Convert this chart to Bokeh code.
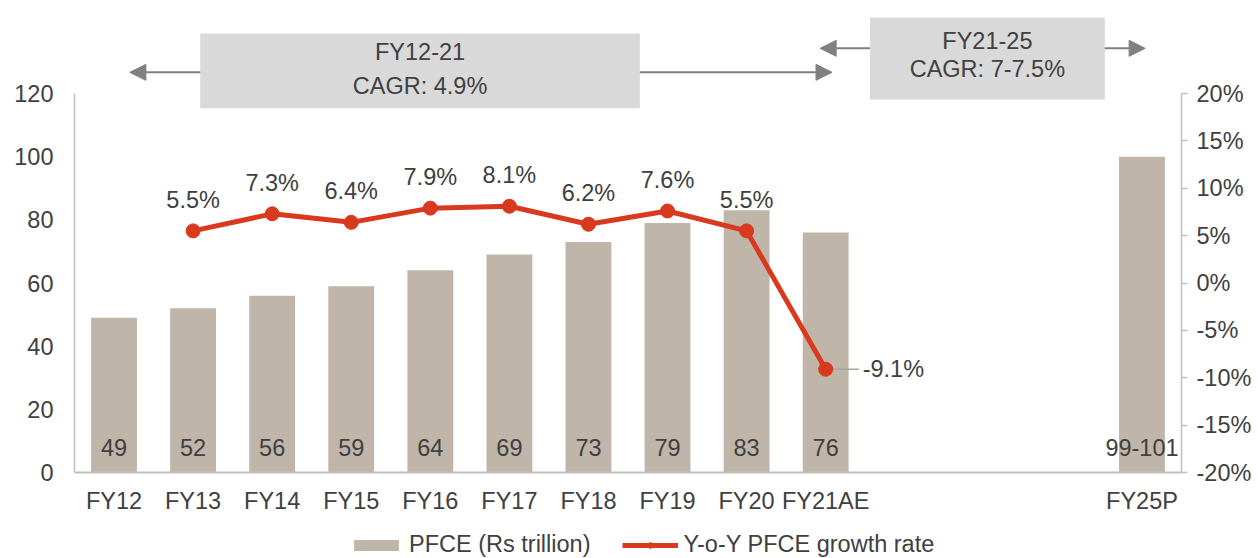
from bokeh.plotting import figure
from bokeh.layouts import column
from bokeh.models import (Range1d, LinearAxis, FixedTicker, PrintfTickFormatter, ColumnDataSource,
                          BoxAnnotation, Arrow, NormalHead, Label, LabelSet, Legend, LegendItem)
from bokeh.core.properties import value
from bokeh.embed import file_html
from bokeh.resources import INLINE

# ---------------- data ----------------
categories = ["FY12", "FY13", "FY14", "FY15", "FY16", "FY17", "FY18", "FY19", "FY20", "FY21AE", "FY25P"]
gap_years = ["FY22", "FY23", "FY24"]
pfce = [49, 52, 56, 59, 64, 69, 73, 79, 83, 76, 100]
pfce_labels = ["49", "52", "56", "59", "64", "69", "73", "79", "83", "76", "99-101"]
growth_years = ["FY13", "FY14", "FY15", "FY16", "FY17", "FY18", "FY19", "FY20", "FY21AE"]
growth = [5.5, 7.3, 6.4, 7.9, 8.1, 6.2, 7.6, 5.5, -9.1]
growth_labels = ["5.5%", "7.3%", "6.4%", "7.9%", "8.1%", "6.2%", "7.6%", "5.5%", "-9.1%"]
left_ticks = [0, 20, 40, 60, 80, 100, 120]
right_ticks = [-20, -15, -10, -5, 0, 5, 10, 15, 20]
period1 = ["FY12-21", "CAGR: 4.9%"]
period2 = ["FY21-25", "CAGR: 7-7.5%"]
series_names = ["PFCE (Rs trillion)", "Y-o-Y PFCE growth rate"]

# ---------------- styling ----------------
FONT = "Liberation Sans"
FS = "23.5px"
TXT = "#404040"
AX = "#BFBFBF"
BAR = "#BFB5A8"
RED = "#D9391E"
BOX = "#D9D9D9"
ARR = "#808080"

slots = categories[:10] + gap_years + categories[10:]
xpos = {c: i for i, c in enumerate(slots)}

# frame: top at 10px, 120 at 93px, 0 at 472px
frame_h = 462
scale_h = 379
ymax = 120 * frame_h / scale_h
pct_max = -20 + 40 * frame_h / scale_h

p = figure(width=1258, height=516, x_range=Range1d(-0.5, len(slots) - 0.5),
           y_range=Range1d(0, ymax), output_backend="svg", toolbar_location=None,
           min_border_left=74, min_border_right=77, min_border_top=10, min_border_bottom=44)
p.extra_y_ranges = {"pct": Range1d(-20, pct_max)}
p.outline_line_color = None
p.xgrid.grid_line_color = None
p.ygrid.grid_line_color = None
p.background_fill_color = "white"

# axes
xa = p.xaxis[0]
xa.axis_label = None
xa.ticker = FixedTicker(ticks=[xpos[c] for c in categories])
xa.major_label_overrides = {xpos[c]: c for c in categories}
xa.axis_line_color = AX
xa.axis_line_width = 2
xa.major_tick_line_color = None
xa.minor_tick_line_color = None
xa.major_tick_out = 0
xa.major_label_standoff = 15
xa.major_label_text_font = FONT
xa.major_label_text_font_size = FS
xa.major_label_text_color = TXT

ya = p.yaxis[0]
ya.axis_label = None
ya.ticker = FixedTicker(ticks=left_ticks)
ya.bounds = (0, 120)
ya.axis_line_color = AX
ya.axis_line_width = 1.5
ya.major_tick_line_color = None
ya.minor_tick_line_color = None
ya.major_tick_out = 0
ya.major_label_standoff = 21
ya.major_label_text_font = FONT
ya.major_label_text_font_size = FS
ya.major_label_text_color = TXT

ra = LinearAxis(y_range_name="pct", ticker=FixedTicker(ticks=right_ticks),
                formatter=PrintfTickFormatter(format="%d%%"), bounds=(-20, 20))
ra.axis_line_color = AX
ra.axis_line_width = 1.5
ra.major_tick_line_color = AX
ra.major_tick_line_width = 1.5
ra.major_tick_out = 6
ra.major_tick_in = 0
ra.minor_tick_line_color = None
ra.major_label_standoff = 9
ra.major_label_text_font = FONT
ra.major_label_text_font_size = FS
ra.major_label_text_color = TXT
p.add_layout(ra, "right")

# bars
bar_src = ColumnDataSource(dict(x=[xpos[c] for c in categories], top=pfce,
                                label=pfce_labels, base=[0] * len(pfce)))
p.vbar(x="x", top="top", width=0.58, source=bar_src, fill_color=BAR, line_color=None)
p.add_layout(LabelSet(x="x", y="base", text="label", source=bar_src, y_offset=25,
                      text_align="center", text_baseline="middle", text_font=value(FONT),
                      text_font_size=value(FS), text_color=value(TXT)))

# growth line
gx = [xpos[c] for c in growth_years]
line_src = ColumnDataSource(dict(x=gx, y=growth))
for xi, g in zip(gx, growth):
    if g < 0:
        p.segment(x0=xi + 0.09, y0=g, x1=xi + 0.42, y1=g, y_range_name="pct",
                  line_color="#A6A6A6", line_width=1.5)
p.line("x", "y", source=line_src, y_range_name="pct", line_color=RED, line_width=5)
p.scatter("x", "y", source=line_src, y_range_name="pct", size=14,
          fill_color=RED, line_color=RED)

up = [i for i, g in enumerate(growth) if g >= 0]
up_src = ColumnDataSource(dict(x=[gx[i] for i in up], y=[growth[i] for i in up],
                               label=[growth_labels[i] for i in up]))
p.add_layout(LabelSet(x="x", y="y", text="label", source=up_src, y_range_name="pct",
                      y_offset=31, text_align="center", text_baseline="middle",
                      text_font=value(FONT), text_font_size=value(FS), text_color=value(TXT)))
for i, g in enumerate(growth):
    if g < 0:
        p.add_layout(Label(x=gx[i], y=g, text=growth_labels[i], y_range_name="pct",
                           x_offset=37, text_align="left", text_baseline="middle",
                           text_font=FONT, text_font_size=FS, text_color=TXT))

# period annotation boxes
def period_box(left, right, bottom, top, arrow_y, left_tip, right_tip, texts, text_ys):
    p.add_layout(BoxAnnotation(left=left, right=right, bottom=bottom, top=top,
                               fill_color=BOX, fill_alpha=1, line_color=None))
    for xs, xe in ((left, left_tip), (right, right_tip)):
        p.add_layout(Arrow(x_start=xs, y_start=arrow_y, x_end=xe, y_end=arrow_y,
                           line_color=ARR, line_width=2,
                           end=NormalHead(size=16, fill_color=ARR, line_color=ARR)))
    for t, ty in zip(texts, text_ys):
        p.add_layout(Label(x=(left + right) / 2, y=ty, text=t, text_align="center",
                           text_baseline="middle", text_font=FONT, text_font_size=FS,
                           text_color=TXT))

period_box(1.09, 6.65, 115.3, 139.0, 126.7, 0.2, 9.08, period1, [133.0, 122.5])
period_box(9.56, 12.53, 118.1, 144.1, 134.3, 8.93, 13.04, period2, [136.5, 127.6])

# legend strip (separate small figure directly under the chart)
lg = figure(width=1258, height=42, x_range=Range1d(0, 1), y_range=Range1d(0, 1),
            x_axis_type=None, y_axis_type=None, output_backend="svg", toolbar_location=None,
            min_border_left=0, min_border_right=0, min_border_top=0, min_border_bottom=0)
lg.outline_line_color = None
lg.xgrid.grid_line_color = None
lg.ygrid.grid_line_color = None
# key renderers placed outside the visible range (they only provide legend swatches)
key_src = ColumnDataSource(dict(x=[-5], y=[-5], top=[-5]))
kb = lg.vbar(x="x", top="top", width=0.58, source=key_src, fill_color=BAR, line_color=None)
kl = lg.line("x", "y", source=key_src, line_color=RED, line_width=5)
ks = lg.scatter("x", "y", source=key_src, size=14, fill_color=RED, line_color=RED)
legend = Legend(items=[LegendItem(label=series_names[0], renderers=[kb], index=0),
                       LegendItem(label=series_names[1], renderers=[kl, ks], index=0)],
                orientation="horizontal", location=(274, 0), border_line_color=None,
                background_fill_alpha=0, padding=0, margin=0, spacing=32,
                glyph_width=56, glyph_height=14, label_standoff=5,
                label_text_font=FONT, label_text_font_size=FS, label_text_color=TXT)
lg.add_layout(legend)

layout = column(p, lg, spacing=0)
open("out.html", "w").write(file_html(layout, INLINE))
